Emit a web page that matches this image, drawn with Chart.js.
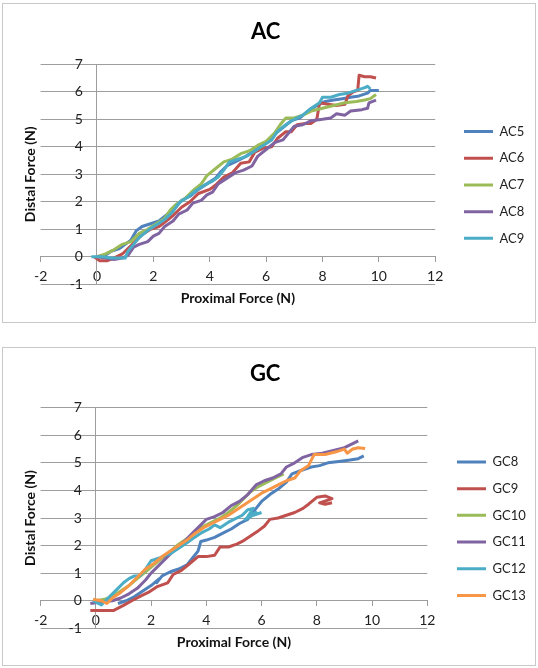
<!DOCTYPE html>
<html>
<head>
<meta charset="utf-8">
<title>AC / GC distal vs proximal force</title>
<script src="https://cdn.jsdelivr.net/npm/chart.js@4.4.1/dist/chart.umd.min.js"></script>
<style>
  body { margin: 0; background: #fff; }
  .panel { position: absolute; left: 2px; width: 532px; border: 1px solid #c8c8c8; background: #fff; }
  #acBox { top: 3px; height: 318px; }
  #gcBox { top: 347px; height: 317px; }
  canvas { display: block; }
</style>
</head>
<body>
<div class="panel" id="acBox"><canvas id="ac" width="532" height="318"></canvas></div>
<div class="panel" id="gcBox"><canvas id="gc" width="532" height="317"></canvas></div>
<script>
// ---- data: [proximal force, distal force] pairs ----
const acNames = ['AC5', 'AC6', 'AC7', 'AC8', 'AC9'];
const ac5 = [[0,0],[0.3,0.05],[0.5,0.2],[0.8,0.3],[1.0,0.45],[1.2,0.6],[1.4,0.95],[1.6,1.1],[1.9,1.2],[2.2,1.3],[2.5,1.55],[2.8,1.8],[3.0,2.05],[3.3,2.2],[3.6,2.45],[3.9,2.65],[4.2,2.85],[4.4,3.1],[4.6,3.3],[4.9,3.45],[5.2,3.6],[5.5,3.8],[5.8,4.0],[6.1,4.2],[6.3,4.45],[6.6,4.7],[6.9,4.95],[7.2,5.05],[7.5,5.3],[7.8,5.5],[8.1,5.65],[8.4,5.7],[8.7,5.75],[9.0,5.8],[9.3,5.85],[9.6,5.95],[9.7,6.05],[10.0,6.05]];
const ac6 = [[-0.1,0],[0.1,-0.15],[0.35,-0.15],[0.6,-0.05],[0.9,0.1],[1.1,0.3],[1.3,0.5],[1.6,0.8],[1.9,1.0],[2.2,1.1],[2.4,1.25],[2.7,1.5],[3.0,1.8],[3.3,2.0],[3.6,2.3],[4.0,2.45],[4.2,2.6],[4.5,2.9],[4.8,3.05],[5.1,3.4],[5.4,3.45],[5.6,3.8],[5.9,3.95],[6.2,4.0],[6.4,4.3],[6.7,4.55],[6.9,4.55],[7.1,4.8],[7.4,4.85],[7.6,4.85],[7.8,5.0],[7.9,5.6],[8.2,5.55],[8.5,5.5],[8.8,5.55],[8.9,5.85],[9.1,6.0],[9.25,6.05],[9.3,6.6],[9.5,6.55],[9.7,6.55],[9.9,6.5]];
const ac7 = [[0,0],[0.3,0.1],[0.6,0.25],[0.9,0.45],[1.2,0.55],[1.5,0.85],[1.8,1.0],[2.1,1.2],[2.4,1.4],[2.6,1.7],[2.8,1.9],[3.1,2.1],[3.4,2.4],[3.7,2.65],[3.9,2.95],[4.2,3.2],[4.5,3.45],[4.8,3.55],[5.1,3.75],[5.4,3.85],[5.7,4.05],[6.0,4.2],[6.3,4.5],[6.5,4.8],[6.7,5.05],[7.0,5.05],[7.3,5.15],[7.6,5.3],[8.0,5.4],[8.4,5.5],[8.8,5.6],[9.2,5.65],[9.5,5.7],[9.7,5.75],[9.9,5.9]];
const ac8 = [[0,0],[0.3,-0.05],[0.6,-0.1],[0.9,-0.05],[1.1,0.05],[1.3,0.35],[1.5,0.45],[1.8,0.55],[2.0,0.75],[2.2,0.85],[2.4,1.1],[2.7,1.3],[2.9,1.55],[3.2,1.7],[3.4,1.95],[3.7,2.05],[3.9,2.25],[4.1,2.35],[4.3,2.65],[4.6,2.85],[4.9,3.05],[5.2,3.15],[5.5,3.3],[5.7,3.65],[6.0,3.9],[6.3,4.15],[6.6,4.25],[6.8,4.5],[7.0,4.75],[7.3,4.8],[7.6,4.95],[8.0,5.0],[8.3,5.05],[8.5,5.2],[8.8,5.15],[9.0,5.3],[9.4,5.35],[9.6,5.4],[9.65,5.6],[9.9,5.7]];
const ac9 = [[-0.2,0],[0.2,0.0],[0.5,-0.05],[0.8,-0.05],[1.0,-0.05],[1.1,0.2],[1.3,0.45],[1.5,0.7],[1.8,0.95],[2.1,1.15],[2.4,1.35],[2.7,1.65],[2.9,1.95],[3.2,2.15],[3.5,2.4],[3.8,2.6],[4.1,2.75],[4.3,2.9],[4.5,3.15],[4.7,3.45],[5.0,3.55],[5.3,3.65],[5.6,3.85],[5.9,4.05],[6.2,4.25],[6.4,4.55],[6.7,4.8],[7.0,5.0],[7.3,5.15],[7.6,5.4],[7.9,5.6],[8.0,5.8],[8.3,5.8],[8.6,5.9],[8.9,5.95],[9.2,6.05],[9.5,6.15],[9.6,6.2],[9.7,6.1]];

const gcNames = ['GC8', 'GC9', 'GC10', 'GC11', 'GC12', 'GC13'];
const gc8 = [[0.8,-0.1],[1.1,0.0],[1.4,0.15],[1.7,0.35],[2.0,0.55],[2.3,0.8],[2.2,0.65],[2.4,0.9],[2.7,1.05],[3.0,1.15],[3.3,1.3],[3.5,1.55],[3.7,1.8],[3.8,2.15],[4.0,2.2],[4.3,2.3],[4.6,2.45],[4.9,2.6],[5.2,2.8],[5.5,2.95],[5.8,3.35],[6.0,3.6],[6.3,3.85],[6.6,4.05],[6.9,4.3],[7.1,4.6],[7.5,4.75],[7.8,4.85],[8.1,4.9],[8.4,5.0],[8.8,5.05],[9.2,5.1],[9.5,5.15],[9.7,5.25]];
const gc9 = [[-0.2,-0.35],[0.3,-0.35],[0.65,-0.35],[1.0,-0.17],[1.3,0.0],[1.6,0.16],[1.9,0.3],[2.2,0.5],[2.6,0.65],[2.8,0.95],[3.1,1.1],[3.4,1.35],[3.7,1.6],[4.0,1.6],[4.3,1.65],[4.5,1.95],[4.8,1.95],[5.1,2.05],[5.3,2.15],[5.6,2.35],[5.9,2.55],[6.1,2.7],[6.3,2.95],[6.6,3.0],[6.9,3.1],[7.2,3.2],[7.5,3.35],[7.7,3.5],[8.0,3.75],[8.3,3.8],[8.55,3.7],[8.4,3.65],[8.1,3.55],[8.3,3.5],[8.55,3.55]];
const gc10 = [[0,0],[0.3,0.05],[0.6,0.15],[0.9,0.35],[1.2,0.55],[1.5,0.8],[1.8,1.05],[2.1,1.3],[2.4,1.55],[2.7,1.8],[3.0,2.05],[3.3,2.25],[3.6,2.45],[3.9,2.7],[4.2,2.85],[4.5,3.0],[4.8,3.2],[5.1,3.45],[5.4,3.75],[5.6,3.95],[5.9,4.15],[6.2,4.3],[6.5,4.45],[6.8,4.6]];
const gc11 = [[-0.2,-0.1],[0.2,-0.05],[0.6,0.0],[0.9,0.1],[1.2,0.25],[1.5,0.45],[1.8,0.75],[2.0,1.0],[2.3,1.3],[2.6,1.6],[2.9,1.9],[3.2,2.15],[3.5,2.45],[3.8,2.75],[4.0,2.95],[4.3,3.05],[4.6,3.2],[4.9,3.45],[5.2,3.6],[5.5,3.85],[5.8,4.2],[6.1,4.35],[6.4,4.45],[6.7,4.6],[6.9,4.85],[7.2,5.0],[7.5,5.2],[7.8,5.3],[8.2,5.35],[8.6,5.45],[9.0,5.55],[9.3,5.7],[9.5,5.8]];
const gc12 = [[-0.1,0.0],[0.2,-0.15],[0.4,0.05],[0.6,0.25],[0.8,0.45],[1.0,0.65],[1.2,0.8],[1.4,0.9],[1.6,0.9],[1.8,1.15],[2.0,1.45],[2.3,1.55],[2.5,1.65],[2.7,1.7],[3.0,1.9],[3.3,2.1],[3.5,2.25],[3.8,2.45],[4.1,2.6],[4.3,2.75],[4.5,2.65],[4.8,2.85],[5.0,2.95],[5.3,3.1],[5.5,3.3],[5.7,3.35],[5.5,3.05],[5.8,3.2],[5.4,2.95],[5.7,3.1],[6.0,3.2]];
const gc13 = [[-0.1,0.05],[0.2,0.0],[0.4,-0.1],[0.6,0.1],[0.9,0.3],[1.2,0.55],[1.5,0.85],[1.8,1.15],[2.1,1.35],[2.4,1.6],[2.7,1.8],[3.0,2.0],[3.3,2.2],[3.6,2.45],[3.9,2.65],[4.2,2.8],[4.5,2.95],[4.8,3.1],[5.1,3.3],[5.4,3.5],[5.7,3.7],[6.0,3.9],[6.3,4.05],[6.6,4.2],[6.9,4.35],[7.2,4.45],[7.4,4.7],[7.7,4.9],[7.9,5.3],[8.3,5.3],[8.7,5.4],[9.0,5.5],[9.1,5.35],[9.3,5.5],[9.5,5.55],[9.75,5.52]];

// Excel 2007 series colours
const COLORS = ['#4F81BD', '#C0504D', '#9BBB59', '#8064A2', '#4BACC6', '#F79646'];
const GRID = '#9d9d9d';

Chart.defaults.font.family = 'Lato, "Open Sans", sans-serif';
Chart.defaults.color = '#222';

function makeChart(id, o) {
  const datasets = o.series.map((pts, i) => ({
    label: o.names[i],
    data: pts.map(p => ({ x: p[0], y: p[1] })),
    showLine: true,
    borderColor: COLORS[i],
    backgroundColor: COLORS[i],
    borderWidth: 3,
    borderJoinStyle: 'round',
    pointRadius: 0,
    order: -i // later series drawn on top, like Excel
  }));

  return new Chart(document.getElementById(id), {
    type: 'scatter',
    data: { datasets },
    options: {
      responsive: false,
      animation: false,
      layout: { padding: { top: 0, left: 0, right: o.padRight, bottom: o.padBottom } },
      plugins: {
        title: {
          display: true, text: o.title, color: '#000',
          font: { size: 22, weight: 'bold' },
          padding: { top: o.titleTop, bottom: o.titleBottom }
        },
        legend: {
          position: 'right', fullSize: false, maxWidth: o.legendWidth,
          title: { display: true, text: '', padding: { top: 7, bottom: 0 } },
          labels: {
            usePointStyle: true, pointStyle: 'line', pointStyleWidth: 29,
            padding: 13.7, font: { size: 13 }, color: '#222',
            sort: (a, b) => a.datasetIndex - b.datasetIndex
          }
        },
        tooltip: { enabled: false }
      },
      scales: {
        x: {
          type: 'linear', position: { y: 0 }, min: -2, max: 12,
          ticks: { stepSize: 2, padding: 6, font: { size: 14 } },
          grid: { drawOnChartArea: false, tickLength: 5, color: GRID },
          border: { color: GRID },
          title: {
            display: true, text: 'Proximal Force (N)', color: '#111',
            font: { size: 14, weight: 'bold' }, padding: { top: 0, bottom: 0 }
          }
        },
        y: {
          type: 'linear', position: { x: 0 }, min: -1, max: 7,
          // labels of an axis placed at x = 0 get no padding, so pad with en spaces
          ticks: { stepSize: 1, font: { size: 14 }, callback: v => v + '\u2002\u2002' },
          grid: { color: GRID, drawTicks: false },
          border: { color: GRID }
        },
        // left strip that only carries the y title
        yTitle: {
          type: 'linear', position: 'left', min: -1, max: 7,
          ticks: { display: false },
          grid: { display: false, drawTicks: false },
          border: { display: false },
          title: {
            display: true, text: 'Distal Force (N)', color: '#111',
            font: { size: 14, weight: 'bold' }, padding: { top: 18.6, bottom: 2.2 }
          }
        },
        // gap between plot and legend
        ySpace: {
          type: 'linear', position: 'right',
          ticks: { display: false },
          grid: { display: false, drawTicks: false },
          border: { display: false },
          afterFit: s => { s.width = o.gap; }
        }
      }
    }
  });
}

makeChart('ac', {
  title: 'AC', names: acNames, series: [ac5, ac6, ac7, ac8, ac9],
  padRight: 6.7, padBottom: 37.8, titleTop: 14.5, titleBottom: 19.4, gap: 15.1, legendWidth: 78
});

makeChart('gc', {
  title: 'GC', names: gcNames, series: [gc8, gc9, gc10, gc11, gc12, gc13],
  padRight: 7.7, padBottom: 36.7, titleTop: 13.1, titleBottom: 20.2, gap: 16, legendWidth: 84
});
</script>
</body>
</html>
